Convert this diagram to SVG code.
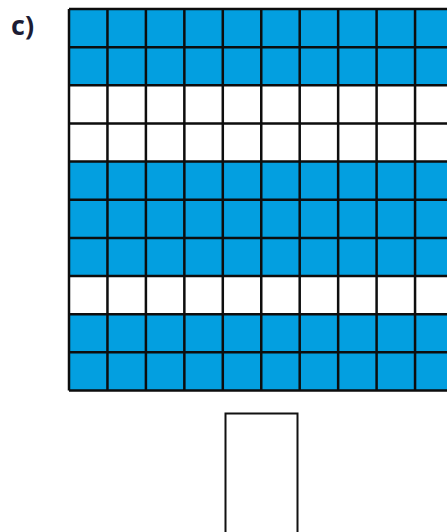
<svg xmlns="http://www.w3.org/2000/svg" width="447" height="532" viewBox="0 0 447 532">
<style>
.b{fill:#039fe0}
.w{fill:#ffffff}
.g{fill:none;stroke:#0d0d0d;stroke-width:2.5}
.lbl{font-family:"Open Sans","Liberation Sans",sans-serif;font-weight:bold;font-size:27px;fill:#1c1c34}
</style>
<rect width="447" height="532" fill="#ffffff"/>
<text class="lbl" x="11" y="35">c)</text>
<g id="grid">
<rect class="b" x="69" y="9" width="390" height="76.3"/>
<rect class="w" x="69" y="85.3" width="390" height="76.3"/>
<rect class="b" x="69" y="161.6" width="390" height="114.45"/>
<rect class="w" x="69" y="276.05" width="390" height="38.15"/>
<rect class="b" x="69" y="314.2" width="390" height="76.3"/>
<path class="g" d="M69 9H459M69 47.15H459M69 85.3H459M69 123.45H459M69 161.6H459M69 199.75H459M69 237.9H459M69 276.05H459M69 314.2H459M69 352.35H459M69 390.5H459
M69 9V390.5M107.45 9V390.5M145.9 9V390.5M184.35 9V390.5M222.8 9V390.5M261.25 9V390.5M299.7 9V390.5M338.15 9V390.5M376.6 9V390.5M415.05 9V390.5"/>
</g>
<g id="box">
<rect x="225.5" y="413.5" width="72" height="130" fill="#ffffff" stroke="#111111" stroke-width="2"/>
</g>
</svg>
